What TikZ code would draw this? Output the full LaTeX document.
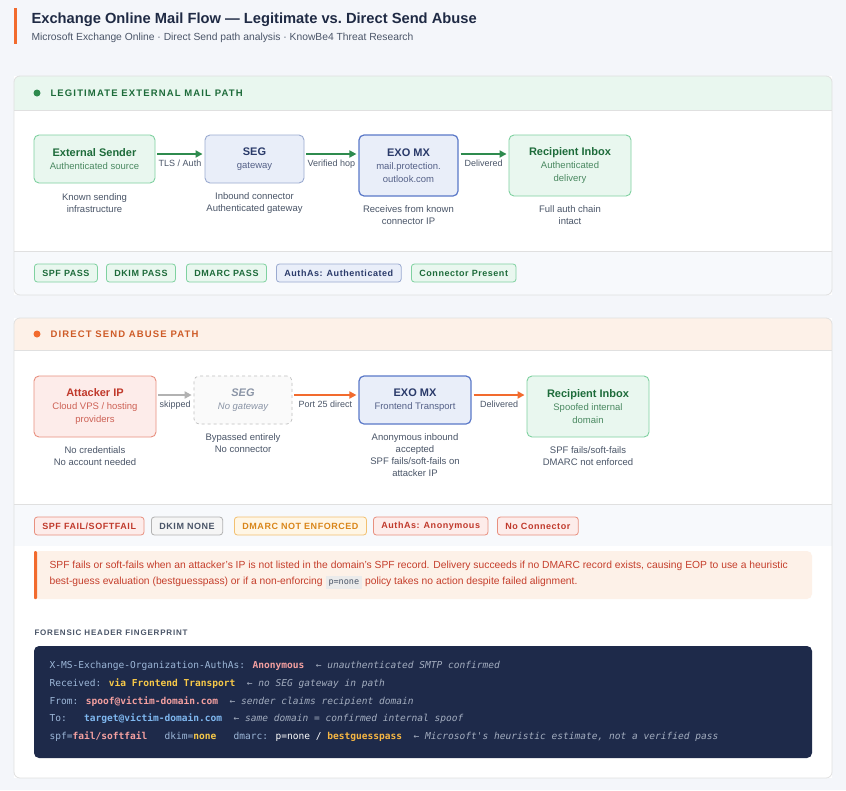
\documentclass[tikz,border=0pt]{standalone}
\usepackage{fontspec}
\setmainfont{Liberation Sans}
\newfontfamily\codefont{DejaVu Sans Mono}
\usetikzlibrary{arrows.meta,calc}
\definecolor{pagebg}{HTML}{F4F6FA}
\definecolor{ink}{HTML}{1F2A44}
\definecolor{muted}{HTML}{4A5568}
\definecolor{gfill}{HTML}{E9F7EF}
\definecolor{gline}{HTML}{7FD1A0}
\definecolor{gtext}{HTML}{1D6B3A}
\definecolor{garrow}{HTML}{2E8B4E}
\definecolor{bfill}{HTML}{E9EEF9}
\definecolor{bline}{HTML}{5A78C8}
\definecolor{bline2}{HTML}{9AAAD0}
\definecolor{btext}{HTML}{2A3A6A}
\definecolor{rfill}{HTML}{FDECEA}
\definecolor{rline}{HTML}{E8907F}
\definecolor{rtext}{HTML}{C0392B}
\definecolor{orange}{HTML}{F26B2E}
\definecolor{ofill}{HTML}{FDF1E8}
\definecolor{afill}{HTML}{FFF6E5}
\definecolor{aline}{HTML}{F2C070}
\definecolor{atext}{HTML}{D9861A}
\definecolor{graytext}{HTML}{8A94A6}
\definecolor{foot}{HTML}{F7F9FC}
\definecolor{navy}{HTML}{1E2A4A}
\definecolor{ckey}{HTML}{9DB7D8}
\definecolor{cpink}{HTML}{F4A0A0}
\definecolor{cyell}{HTML}{F7C948}
\definecolor{cblue}{HTML}{7FB8F0}
\definecolor{ccom}{HTML}{A3ADBF}
\tikzset{
  box/.style={draw, rounded corners=5pt, line width=0.9pt, align=center,
    font=\fontsize{9.5}{13}\selectfont},
  sub/.style={align=center, text=muted, font=\fontsize{9.5}{12}\selectfont},
  badge/.style={draw, rounded corners=3pt, line width=0.8pt, minimum height=18pt,
    inner xsep=8pt, font=\fontsize{9}{10}\selectfont\bfseries\addfontfeature{LetterSpace=6}},
  flow/.style={-{Triangle[length=7pt,width=7pt]}, line width=2pt, shorten >=2pt, shorten <=2pt},
  lbl/.style={below=2pt, midway, text=muted, font=\fontsize{9}{10}\selectfont},
  panel/.style={draw=black!12, line width=0.8pt, rounded corners=6pt},
  head/.style={anchor=west, font=\fontsize{9.5}{10}\selectfont\bfseries\addfontfeature{LetterSpace=12}},
}
\newcommand{\btitle}[2]{{\fontsize{11}{14}\selectfont\bfseries\textcolor{#1}{#2}}}
\begin{document}
\begin{tikzpicture}[x=1pt,y=-1pt]
\useasboundingbox (0,0) rectangle (846,790);
\fill[pagebg] (0,0) rectangle (846,790);

% title
\fill[orange] (14,8) rectangle (17,44);
\node[anchor=west, text=ink, font=\fontsize{14.7}{17}\selectfont\bfseries] (title) at (28,20)
  {Exchange Online Mail Flow — Legitimate vs.\ Direct Send Abuse};
\node[anchor=west, text=muted, font=\fontsize{10.3}{12}\selectfont] (subtitle) at (28,38)
  {Microsoft Exchange Online · Direct Send path analysis · KnowBe4 Threat Research};

% panel 1
\fill[white] (14,76) rectangle (832,295);
\begin{scope}
  \clip[rounded corners=6pt] (14,76) rectangle (832,295);
  \fill[gfill] (14,76) rectangle (832,110);
  \fill[foot] (14,251) rectangle (832,295);
\end{scope}
\draw[black!12] (14,110) -- (832,110) (14,251) -- (832,251);
\draw[panel] (14,76) rectangle (832,295);
\fill[garrow] (37,93) circle (3.5pt);
\node[head, text=gtext] (head1) at (47,93) {LEGITIMATE EXTERNAL MAIL PATH};

\node[box, fill=gfill, draw=gline, minimum width=121pt, minimum height=48pt] (ext) at (94.5,159)
  {\btitle{gtext}{External Sender}\\\textcolor{gtext!80}{Authenticated source}};
\node[box, fill=bfill, draw=bline2, minimum width=99pt, minimum height=48pt] (seg) at (254.5,159)
  {\btitle{btext}{SEG}\\\textcolor{btext!80}{gateway}};
\node[box, fill=bfill, draw=bline, line width=1.2pt, minimum width=99pt, minimum height=61pt] (exo) at (408.5,165.5)
  {\btitle{btext}{EXO MX}\\\textcolor{btext!80}{mail.protection.}\\\textcolor{btext!80}{outlook.com}};
\node[box, fill=gfill, draw=gline, minimum width=122pt, minimum height=61pt] (inbox) at (570,165.5)
  {\btitle{gtext}{Recipient Inbox}\\\textcolor{gtext!80}{Authenticated}\\\textcolor{gtext!80}{delivery}};

\draw[flow, garrow] (ext.east |- 0,154) -- node[lbl] {TLS / Auth} (seg.west |- 0,154);
\draw[flow, garrow] (seg.east |- 0,154) -- node[lbl] {Verified hop} (exo.west |- 0,154);
\draw[flow, garrow] (exo.east |- 0,154) -- node[lbl] {Delivered} (inbox.west |- 0,154);

\node[sub] (extsub) at (94.5,203) {Known sending\\infrastructure};
\node[sub] (segsub) at (254.5,203) {Inbound connector\\Authenticated gateway};
\node[sub] (exosub) at (408.5,215) {Receives from known\\connector IP};
\node[sub] (inboxsub) at (570,215) {Full auth chain\\intact};

\node[badge, anchor=west, fill=gfill, draw=gline, text=gtext] (b1) at (34,273) {SPF PASS};
\node[badge, anchor=west, fill=gfill, draw=gline, text=gtext] (b2) at (106,273) {DKIM PASS};
\node[badge, anchor=west, fill=gfill, draw=gline, text=gtext] (b3) at (186,273) {DMARC PASS};
\node[badge, anchor=west, fill=bfill, draw=bline2, text=btext] (b4) at (276,273) {AuthAs: Authenticated};
\node[badge, anchor=west, fill=gfill, draw=gline, text=gtext] (b5) at (411,273) {Connector Present};

% panel 2
\fill[white] (14,318) rectangle (832,778);
\begin{scope}
  \clip[rounded corners=6pt] (14,318) rectangle (832,778);
  \fill[ofill] (14,318) rectangle (832,350);
  \fill[foot] (14,504) rectangle (832,546);
\end{scope}
\draw[black!12] (14,350) -- (832,350) (14,504) -- (832,504);
\draw[panel] (14,318) rectangle (832,778);
\fill[orange] (37,334) circle (3.5pt);
\node[head, text=orange!85!black] (head2) at (47,334) {DIRECT SEND ABUSE PATH};

\node[box, fill=rfill, draw=rline, minimum width=122pt, minimum height=61pt] (atk) at (95,406.5)
  {\btitle{rtext}{Attacker IP}\\\textcolor{rtext!80}{Cloud VPS / hosting}\\\textcolor{rtext!80}{providers}};
\node[box, fill=black!2, draw=black!25, dashed, line width=0.7pt, minimum width=98pt, minimum height=48pt] (seg2) at (243,400)
  {\textcolor{graytext}{\fontsize{11}{14}\selectfont\bfseries\itshape SEG}\\\textcolor{graytext}{\itshape No gateway}};
\node[box, fill=bfill, draw=bline, line width=1.2pt, minimum width=112pt, minimum height=48pt] (exo2) at (415,400)
  {\btitle{btext}{EXO MX}\\\textcolor{btext!80}{Frontend Transport}};
\node[box, fill=gfill, draw=gline, minimum width=122pt, minimum height=61pt] (inbox2) at (588,406.5)
  {\btitle{gtext}{Recipient Inbox}\\\textcolor{gtext!80}{Spoofed internal}\\\textcolor{gtext!80}{domain}};

\draw[flow, black!30] (atk.east |- 0,395) -- node[lbl] {skipped} (seg2.west |- 0,395);
\draw[flow, orange] (seg2.east |- 0,395) -- node[lbl] {Port 25 direct} (exo2.west |- 0,395);
\draw[flow, orange] (exo2.east |- 0,395) -- node[lbl] {Delivered} (inbox2.west |- 0,395);

\node[sub] (atksub) at (95,456) {No credentials\\No account needed};
\node[sub] (seg2sub) at (243,443) {Bypassed entirely\\No connector};
\node[sub] (exo2sub) at (415,455) {Anonymous inbound\\accepted\\SPF fails/soft-fails on\\attacker IP};
\node[sub] (inbox2sub) at (588,456) {SPF fails/soft-fails\\DMARC not enforced};

\node[badge, anchor=west, fill=rfill, draw=rline, text=rtext] (c1) at (34,526) {SPF FAIL/SOFTFAIL};
\node[badge, anchor=west, fill=black!4, draw=black!30, text=muted] (c2) at (151,526) {DKIM NONE};
\node[badge, anchor=west, fill=afill, draw=aline, text=atext] (c3) at (234,526) {DMARC NOT ENFORCED};
\node[badge, anchor=west, fill=rfill, draw=rline, text=rtext] (c4) at (373,526) {AuthAs: Anonymous};
\node[badge, anchor=west, fill=rfill, draw=rline, text=rtext] (c5) at (497,526) {No Connector};

% note
\fill[ofill, rounded corners=5pt] (34,551) rectangle (812,599);
\fill[orange, rounded corners=1pt] (34,551) rectangle (37,599);
\node[anchor=north west, text=rtext!90!orange, align=left, font=\fontsize{10.3}{16}\selectfont] (note) at (46,557)
  {SPF fails or soft-fails when an attacker's IP is not listed in the domain's SPF record. Delivery succeeds if no DMARC record exists, causing EOP to use a heuristic\\
   best-guess evaluation (bestguesspass) or if a non-enforcing \colorbox{black!8}{\codefont\fontsize{8.5}{9}\selectfont\textcolor{muted}{p=none}} policy takes no action despite failed alignment.};

% fingerprint
\node[head, text=muted, font=\fontsize{8}{9}\selectfont\bfseries\addfontfeature{LetterSpace=10}] (fphead) at (31,633)
  {FORENSIC HEADER FINGERPRINT};
\fill[navy, rounded corners=5pt] (34,646) rectangle (812,758);
\begin{scope}[every node/.style={anchor=west, font=\codefont\fontsize{9.55}{11}\selectfont}]
\node (l1) at (46,666) {\textcolor{ckey}{X-MS-Exchange-Organization-AuthAs:} \textcolor{cpink}{\bfseries Anonymous} \ \textcolor{ccom}{\itshape ← unauthenticated SMTP confirmed}};
\node (l2) at (46,684) {\textcolor{ckey}{Received:} \textcolor{cyell}{\bfseries via Frontend Transport} \ \textcolor{ccom}{\itshape ← no SEG gateway in path}};
\node (l3) at (46,702) {\textcolor{ckey}{From:} \textcolor{cpink}{\bfseries spoof@victim-domain.com} \ \textcolor{ccom}{\itshape ← sender claims recipient domain}};
\node (l4) at (46,719) {\textcolor{ckey}{To:}\ \ \ \textcolor{cblue}{\bfseries target@victim-domain.com} \ \textcolor{ccom}{\itshape ← same domain = confirmed internal spoof}};
\node (l5) at (46,737) {\textcolor{ckey}{spf=}\textcolor{cpink}{\bfseries fail/softfail}\ \ \ \textcolor{ckey}{dkim=}\textcolor{cyell}{\bfseries none}\ \ \ \textcolor{ckey}{dmarc:} \textcolor{white}{p=none /} \textcolor{cyell!80!orange}{\bfseries bestguesspass} \ \textcolor{ccom}{\itshape ← Microsoft's heuristic estimate, not a verified pass}};
\end{scope}
\end{tikzpicture}
\end{document}
